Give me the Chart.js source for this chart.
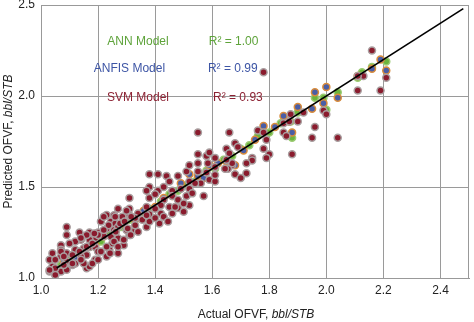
<!DOCTYPE html>
<html>
<head>
<meta charset="utf-8">
<script src="https://cdn.jsdelivr.net/npm/chart.js@4"></script>
<style>
  html, body { margin: 0; padding: 0; background: #fff; }
  #wrap { width: 474px; height: 322px; }
</style>
</head>
<body>
<div id="wrap"><canvas id="c" width="474" height="322"></canvas></div>
<script>
/* ── data: [actual, predicted] OFVF, bbl/STB ── */
const svmPoints = [
  [2.16,2.25],[2.21,2.10],[2.19,2.03],[2.13,2.11],[2.11,2.03],[1.78,2.13],[1.99,1.92],[2.00,1.90],
  [1.92,1.91],[1.90,1.86],[1.85,1.85],[1.85,1.80],[1.96,1.83],[1.95,1.77],[2.04,1.77],[1.88,1.68],
  [1.76,1.81],[1.79,1.76],[1.78,1.71],[1.80,1.68],[1.68,1.74],[1.66,1.80],[1.69,1.72],[1.74,1.66],
  [1.79,1.66],[1.74,1.645],[1.72,1.63],[1.72,1.575],[1.68,1.57],[1.70,1.55],[1.67,1.62],[1.655,1.60],
  [1.55,1.80],[1.55,1.68],[1.58,1.67],[1.59,1.69],[1.65,1.71],[1.61,1.66],[1.585,1.63],[1.55,1.63],
  [1.55,1.585],[1.58,1.58],[1.61,1.61],[1.645,1.60],[1.67,1.63],[1.51,1.585],[1.48,1.56],[1.52,1.53],
  [1.57,1.45],[1.56,1.52],[1.52,1.49],[1.38,1.57],[1.41,1.57],[1.44,1.56],[1.45,1.53],[1.38,1.50],
  [1.41,1.48],[1.43,1.50],[1.46,1.48],[1.49,1.49],[1.37,1.48],[1.38,1.44],[1.40,1.46],[1.43,1.43],
  [1.46,1.45],[1.48,1.43],[1.51,1.45],[1.52,1.40],[1.48,1.385],[1.45,1.39],[1.42,1.355],[1.42,1.40],
  [1.40,1.38],[1.37,1.39],[1.38,1.35],[1.415,1.30],[1.355,1.32],[1.34,1.355],[1.31,1.44],[1.31,1.38],
  [1.31,1.345],[1.33,1.33],[1.30,1.37],[1.27,1.38],[1.285,1.336],[1.256,1.345],[1.23,1.346],[1.245,1.31],
  [1.26,1.30],[1.21,1.31],[1.23,1.27],[1.20,1.25],[1.256,1.264],[1.27,1.28],[1.22,1.23],[1.245,1.227],
  [1.19,1.22],[1.17,1.25],[1.17,1.21],[1.135,1.25],[1.16,1.236],[1.14,1.21],[1.12,1.20],[1.09,1.28],
  [1.09,1.236],[1.10,1.19],[1.07,1.18],[1.12,1.155],[1.15,1.163],[1.17,1.17],[1.19,1.17],[1.20,1.145],
  [1.16,1.127],[1.14,1.118],[1.09,1.136],[1.07,1.118],[1.04,1.136],[1.07,1.155],[1.03,1.10],[1.09,1.09],
  [1.12,1.08],[1.16,1.054],[1.17,1.063],[1.04,1.063],[1.03,1.036],[1.05,1.018],[1.07,1.036],[1.09,1.045],
  [1.11,1.072],[1.15,1.08],[1.19,1.10],[1.23,1.118],[1.24,1.155],[1.27,1.136],[1.25,1.19],[1.29,1.18],
  [1.27,1.218],[1.31,1.236],[1.30,1.264],[1.33,1.264],[1.34,1.254],[1.33,1.29],[1.37,1.28],[1.38,1.31],
  [1.37,1.345],[1.40,1.33],[1.43,1.336],[1.445,1.31],[1.46,1.355],[1.47,1.39],[1.50,1.41],[1.50,1.364],
  [1.53,1.465],[1.54,1.52],[1.59,1.54],[1.61,1.53],[1.61,1.566],[1.65,1.65],[1.66,1.685],[1.52,1.62],
  [1.14,1.22],[1.07,1.145],[1.05,1.10],[1.08,1.118],[1.11,1.127],[1.135,1.145],[1.16,1.172],[1.18,1.19],
  [1.14,1.10],[1.11,1.08],[1.08,1.072],[1.05,1.054],[1.03,1.044],[1.05,1.017],[1.18,1.08],[1.20,1.10],
  [1.21,1.145],[1.23,1.172],[1.26,1.336],[1.22,1.336],[1.277,1.30],[1.237,1.29],[1.22,1.264],[1.20,1.236],
  [1.187,1.245],[1.262,1.254],[1.293,1.31],[1.304,1.272],[1.316,1.336],[1.256,1.20],[1.242,1.136],[1.27,1.172],
  [1.29,1.21],[1.314,1.236],[1.86,1.78],[1.875,1.90],[1.87,1.86],[2.11,2.11],[1.78,1.80]
];
const anfisPoints = [
  [2.19,2.20],[2.21,2.14],[2.16,2.15],[2.11,2.11],[1.96,2.02],[2.00,2.05],[2.04,1.99],[1.99,1.96],
  [1.95,1.93],[1.90,1.94],[1.85,1.89],[1.88,1.80],[1.78,1.835],[1.68,1.62],[1.59,1.62],[1.52,1.57],
  [1.49,1.52],[1.05,1.05],[1.08,1.09],[1.12,1.11],[1.15,1.16],[1.19,1.18],[1.22,1.23],[1.26,1.25],
  [1.29,1.30],[1.33,1.32],[1.36,1.37],[1.40,1.39],[1.43,1.44],[1.46,1.45],[1.55,1.56],[1.57,1.55],
  [1.62,1.63],[1.65,1.64],[1.71,1.70],[1.75,1.76],[1.82,1.83],[1.87,1.86]
];
const annPoints = [
  [2.21,2.19],[2.16,2.16],[2.125,2.13],[1.96,1.99],[2.04,2.02],[2.00,1.925],[1.90,1.91],[1.875,1.86],
  [1.88,1.77],[1.76,1.78],[1.99,1.99],[2.11,2.10],[1.04,1.04],[1.07,1.07],[1.10,1.10],[1.13,1.14],
  [1.17,1.17],[1.21,1.20],[1.24,1.24],[1.28,1.28],[1.31,1.32],[1.35,1.35],[1.38,1.38],[1.42,1.42],
  [1.45,1.46],[1.48,1.48],[1.51,1.51],[1.54,1.53],[1.58,1.59],[1.61,1.60],[1.64,1.65],[1.67,1.67],
  [1.70,1.71],[1.73,1.73],[1.80,1.80],[1.84,1.85]
];
const fitLine = [1.055, 2.48];           // y = x, start and end
const xTicks = [1.0, 1.2, 1.4, 1.6, 1.8, 2.0, 2.2, 2.4];
const yTicks = [1.0, 1.5, 2.0, 2.5];
const modelNames = ['ANN Model', 'ANFIS Model', 'SVM Model'];
const r2Values = [1.00, 0.99, 0.93];

const FONT = '"Liberation Sans", Arial, sans-serif';
const modelColors = ['#5ea33a', '#3d55a5', '#8c2233'];
// label anchors in data units: [name x, r2 x, y]
const labelPos = [[1.34, 1.675, 2.30], [1.31, 1.672, 2.152], [1.34, 1.69, 1.99]];

const toXY = arr => arr.map(p => ({ x: p[0], y: p[1] }));

/* ── frame, in-plot labels, axis titles ── */
const decor = {
  id: 'decor',
  afterDatasetsDraw(chart) {
    const { ctx, chartArea: a, scales: { x, y } } = chart;
    ctx.save();
    ctx.strokeStyle = '#999';
    ctx.lineWidth = 1;
    ctx.strokeRect(a.left + 0.5, a.top + 0.5, a.right - a.left - 1, a.bottom - a.top);
    ctx.font = '12px ' + FONT;
    ctx.textAlign = 'center';
    ctx.textBaseline = 'middle';
    modelNames.forEach((n, i) => {
      const [nx, rx, ly] = labelPos[i];
      ctx.fillStyle = modelColors[i];
      ctx.fillText(n, x.getPixelForValue(nx), y.getPixelForValue(ly));
      ctx.fillText('R² = ' + r2Values[i].toFixed(2), x.getPixelForValue(rx), y.getPixelForValue(ly));
    });
    ctx.restore();
  },
  afterDraw(chart) {
    const { ctx, chartArea: a } = chart;
    const plain = '12px ' + FONT, ital = 'italic 12px ' + FONT;
    // plain text followed by italic units, centred on (cx, cy)
    function mixed(cx, cy, rot, first) {
      ctx.save();
      ctx.translate(cx, cy);
      ctx.rotate(rot);
      ctx.fillStyle = '#222';
      ctx.textBaseline = 'middle';
      ctx.textAlign = 'left';
      ctx.font = plain;
      const w1 = ctx.measureText(first).width;
      ctx.font = ital;
      const w2 = ctx.measureText('bbl/STB').width;
      const sx = -(w1 + w2) / 2;
      ctx.font = plain;
      ctx.fillText(first, sx, 0);
      ctx.font = ital;
      ctx.fillText('bbl/STB', sx + w1, 0);
      ctx.restore();
    }
    mixed(256, 315, 0, 'Actual OFVF, ');
    mixed(9, (a.top + a.bottom) / 2, -Math.PI / 2, 'Predicted OFVF, ');
  }
};

const pt = (bg, bd) => ({
  pointRadius: 3.5, pointHoverRadius: 3.5, pointBorderWidth: 1.5,
  pointBackgroundColor: bg, pointBorderColor: bd, showLine: false
});

new Chart(document.getElementById('c'), {
  type: 'scatter',
  data: {
    datasets: [
      { type: 'line', label: 'fit', data: fitLine.map(v => ({ x: v, y: v })),
        borderColor: '#000', borderWidth: 1.6, pointRadius: 0, order: 0 },
      { label: 'SVM', data: toXY(svmPoints), ...pt('#8a1b2d', '#a99e9f'), order: 1 },
      { label: 'ANFIS', data: toXY(anfisPoints), ...pt('#4a5ea6', '#d98c3c'), order: 2 },
      { label: 'ANN', data: toXY(annPoints), ...pt('#6cb43c', '#9ccb74'), order: 3 }
    ]
  },
  options: {
    responsive: false,
    animation: false,
    layout: { padding: { top: 4, right: 1, left: 0, bottom: 0 } },
    plugins: { legend: { display: false }, tooltip: { enabled: false } },
    scales: {
      x: {
        type: 'linear', min: 1.0, max: 2.5,
        afterBuildTicks: s => { s.ticks = xTicks.map(v => ({ value: v })); },
        afterFit: s => { s.height = 44; s.paddingLeft = 0; s.paddingRight = 0; },
        ticks: { padding: 5, color: '#222', font: { family: FONT, size: 12 },
                 callback: v => v.toFixed(1) },
        grid: { color: '#9a9a9a', drawTicks: false },
        border: { color: '#999' }
      },
      y: {
        type: 'linear', min: 1.0, max: 2.5,
        afterBuildTicks: s => { s.ticks = yTicks.map(v => ({ value: v })); },
        // keep the top label from pushing the plot down
        afterFit: s => { s.width = 41; s.paddingTop = 0; s.paddingBottom = 0; },
        ticks: { padding: 6, color: '#222', font: { family: FONT, size: 12 },
                 callback: v => v.toFixed(1) },
        grid: { color: '#9a9a9a', drawTicks: false },
        border: { color: '#999' }
      }
    }
  },
  plugins: [decor]
});
</script>
</body>
</html>
